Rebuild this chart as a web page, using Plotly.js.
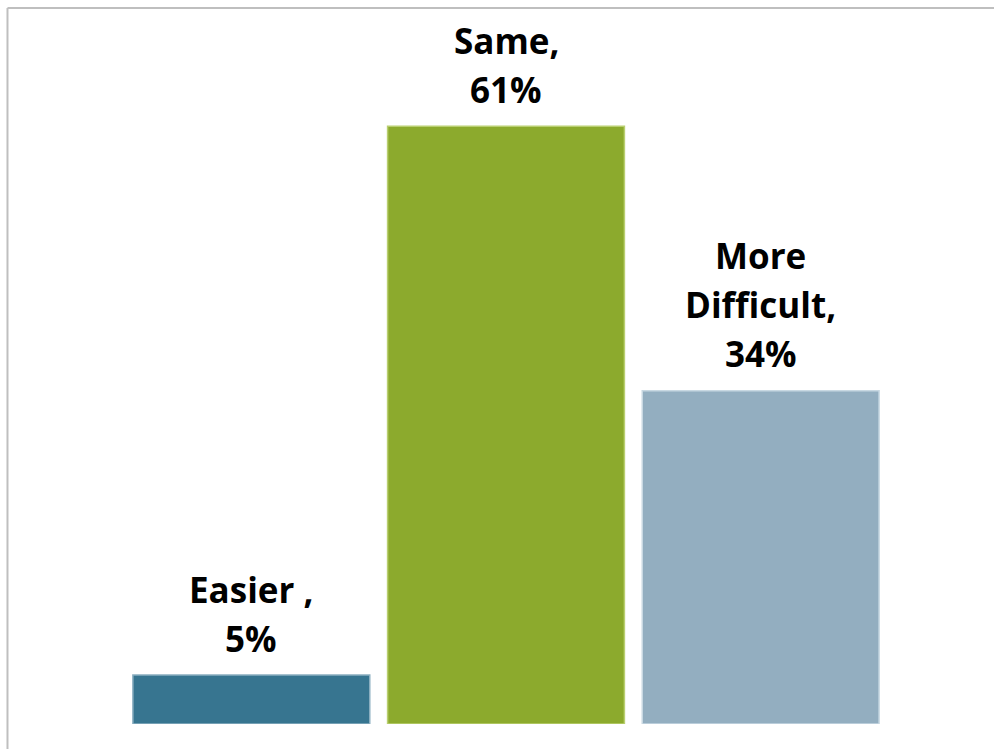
<!DOCTYPE html>
<html>
<head>
<meta charset="utf-8">
<script src="https://cdn.plot.ly/plotly-3.0.1.min.js"></script>
<style>html,body{margin:0;padding:0;background:#fff;}#chart{width:994px;height:749px;}</style>
</head>
<body>
<div id="chart"></div>
<script>
// Data
var categories = ['Easier', 'Same', 'More Difficult'];
var labelNames = ['Easier ', 'Same', 'More<br>Difficult'];
var values = [5, 61, 34];
var barColors = ['#377590', '#8caa2d', '#93aec0'];
var barLineColors = ['#8aaec0', '#b9cf70', '#c8d8e2'];

var trace = {
  type: 'bar',
  x: categories,
  y: values,
  marker: { color: barColors, line: { color: barLineColors, width: 1.5 } },
  hoverinfo: 'none',
  showlegend: false
};

var labelFont = { family: 'Open Sans, sans-serif', size: 35, color: '#000000', weight: 700 };
var annotations = [];
for (var i = 0; i < categories.length; i++) {
  var lines = (labelNames[i] + ',<br>' + values[i] + '%').split('<br>');
  for (var j = 0; j < lines.length; j++) {
    var k = lines.length - 1 - j; // 0 = bottom line
    annotations.push({
      x: categories[i], y: values[i], xref: 'x', yref: 'y',
      text: '<b>' + lines[j] + '</b>',
      showarrow: false, xanchor: 'center', yanchor: 'middle',
      yshift: 37 + 49 * k,
      font: labelFont
    });
  }
}

var frameColor = '#bfbfbf';
var layout = {
  width: 994, height: 749,
  margin: { l: 124, r: 106, t: 38, b: 25, pad: 0 },
  paper_bgcolor: '#ffffff', plot_bgcolor: '#ffffff',
  bargap: 0.07,
  xaxis: { type: 'category', showticklabels: false, showgrid: false, zeroline: false, showline: false, ticks: '', range: [-0.5, 2.5] },
  yaxis: { range: [0, 70], showticklabels: false, showgrid: false, zeroline: false, showline: false, ticks: '' },
  annotations: annotations,
  shapes: [
    { type: 'line', xref: 'paper', yref: 'paper', x0: -0.1525, x1: -0.1525, y0: -0.05, y1: 1.0437, line: { color: frameColor, width: 2 } },
    { type: 'line', xref: 'paper', yref: 'paper', x0: -0.1525, x1: 1.2, y0: 1.0437, y1: 1.0437, line: { color: frameColor, width: 2 } }
  ]
};

Plotly.newPlot('chart', [trace], layout, { staticPlot: true, displayModeBar: false });
</script>
</body>
</html>
